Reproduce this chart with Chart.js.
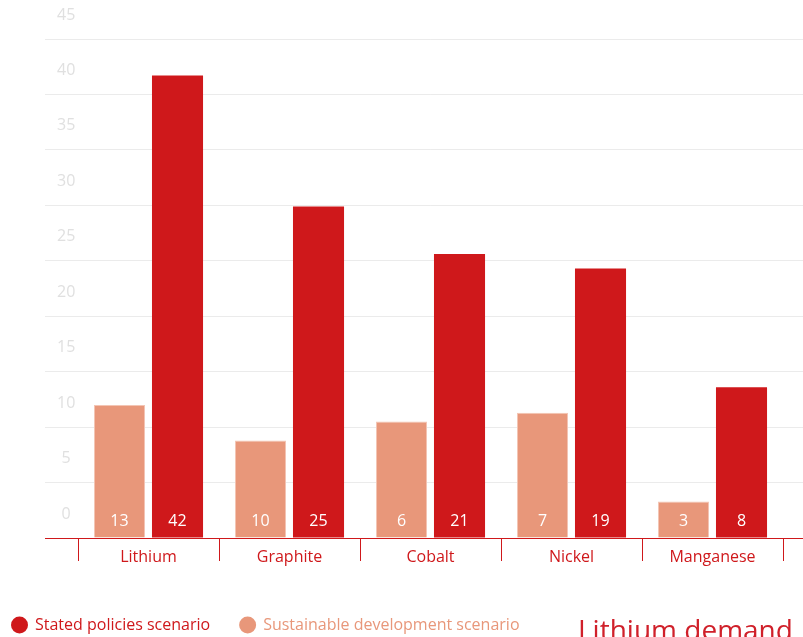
<!DOCTYPE html>
<html>
<head>
<meta charset="utf-8">
<script src="https://cdn.jsdelivr.net/npm/chart.js@4.4.1/dist/chart.umd.min.js"></script>
<style>
  html, body { margin: 0; padding: 0; background: #fff; overflow: hidden; }
  #wrap { position: relative; width: 803px; height: 637px; }
  #demand-title {
    position: absolute; left: 578px; top: 610px;
    font-family: "Open Sans", sans-serif; font-size: 28px; color: #d0202a; white-space: nowrap;
  }
</style>
</head>
<body>
<div id="wrap">
  <canvas id="minerals-chart" width="803" height="637"></canvas>
  <div id="demand-title">Lithium demand</div>
</div>
<script>
const minerals = ["Lithium", "Graphite", "Cobalt", "Nickel", "Manganese"];
// bar heights as drawn in the picture
const sdsHeights = [12.0, 8.8, 10.5, 11.3, 3.3];
const stepsHeights = [41.7, 29.9, 25.6, 24.3, 13.6];
// numbers printed inside the bars
const sdsLabels = [13, 10, 6, 7, 3];
const stepsLabels = [42, 25, 21, 19, 8];
const yMax = 45;
const yStep = 5;

const RED = "#cf181b";
const PEACH = "#e8977a";
const GRID = "#ebebeb";
const FONT = "'Open Sans', sans-serif";

const barLabels = {
  id: "barLabels",
  afterDatasetsDraw(chart){
    const { ctx } = chart;
    const zero = chart.scales.y.getPixelForValue(0);
    const sets = [sdsLabels, stepsLabels];
    ctx.save();
    ctx.fillStyle = "#fff";
    ctx.font = `16px ${FONT}`;
    ctx.textAlign = "center";
    ctx.textBaseline = "middle";
    chart.data.datasets.forEach((ds, i) => {
      chart.getDatasetMeta(i).data.forEach((bar, j) => {
        ctx.fillText(String(sets[i][j]), bar.x, zero - 17);
      });
    });
    ctx.restore();
  },
};

const gridColor = (c) => (c.tick && c.tick.value === 0 ? RED : GRID);

new Chart(document.getElementById("minerals-chart"), {
  type: "bar",
  data: {
    labels: minerals,
    datasets: [
      { label: "Sustainable development scenario", data: sdsHeights, backgroundColor: PEACH, borderColor: "#f3c5b4", borderWidth: 1, legendColor: PEACH },
      { label: "Stated policies scenario", data: stepsHeights, backgroundColor: RED, legendColor: RED },
    ],
  },
  options: {
    responsive: false,
    animation: false,
    categoryPercentage: 0.823,
    barPercentage: 0.88,
    layout: { padding: { left: -18, top: 39, right: 0, bottom: -6 } },
    scales: {
      x: {
        offset: true,
        afterFit: (s) => { s.height = 49; },
        border: { color: RED },
        grid: { display: true, drawOnChartArea: false, offset: true, color: RED, tickColor: RED, tickLength: 23 },
        ticks: { color: RED, font: { family: FONT, size: 16 }, padding: -13 },
      },
      y: {
        min: 0,
        max: yMax,
        afterFit: (s) => { s.width = 96; },
        border: { display: false },
        grid: { color: gridColor, tickColor: gridColor, tickLength: 33 },
        ticks: { stepSize: yStep, mirror: true, crossAlign: "center", padding: -21, labelOffset: -24, color: "#e0e0e0", font: { family: FONT, size: 16 } },
      },
      y2: {
        position: "right",
        min: 0,
        max: yMax,
        border: { display: false },
        grid: { color: gridColor, tickColor: gridColor, tickLength: 20 },
        ticks: { stepSize: yStep, display: false },
      },
    },
    plugins: {
      tooltip: { enabled: false },
      legend: {
        position: "bottom",
        align: "start",
        reverse: true,
        labels: {
          usePointStyle: true,
          pointStyle: "circle",
          boxWidth: 15,
          boxHeight: 12,
          padding: 30,
          font: { family: FONT, size: 16 },
          generateLabels(chart){
            return chart.data.datasets.map((ds, i) => ({
              text: ds.label,
              fillStyle: ds.legendColor,
              strokeStyle: ds.legendColor,
              lineWidth: 0,
              fontColor: ds.legendColor,
              pointStyle: "circle",
              hidden: false,
              datasetIndex: i,
            }));
          },
        },
      },
    },
  },
  plugins: [barLabels],
});
</script>
</body>
</html>
